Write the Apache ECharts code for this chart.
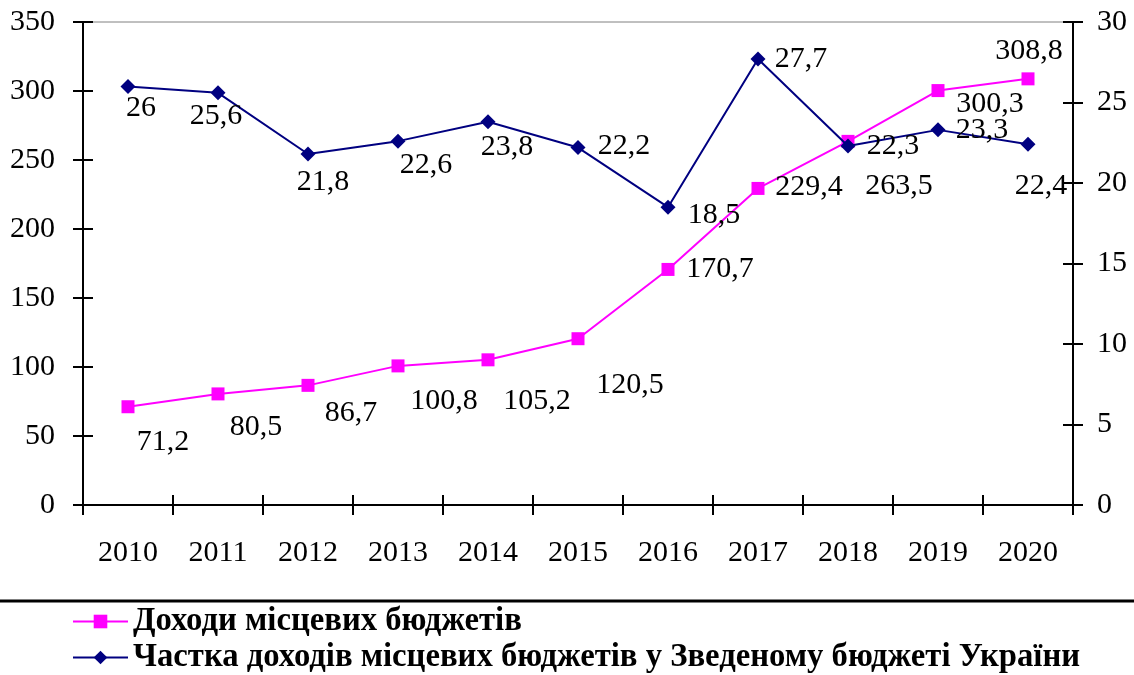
<!DOCTYPE html>
<html>
<head>
<meta charset="utf-8">
<script src="https://cdn.jsdelivr.net/npm/echarts@6/dist/echarts.min.js"></script>
<style>
html,body{margin:0;padding:0;background:#fff;}
#chart{width:1134px;height:675px;}
</style>
</head>
<body>
<div id="chart"></div>
<script>
const years = ['2010','2011','2012','2013','2014','2015','2016','2017','2018','2019','2020'];
const incomes = [71.2, 80.5, 86.7, 100.8, 105.2, 120.5, 170.7, 229.4, 263.5, 300.3, 308.8];
const shares = [26, 25.6, 21.8, 22.6, 23.8, 22.2, 18.5, 27.7, 22.3, 23.3, 22.4];
const incomeName = 'Доходи місцевих бюджетів';
const shareName = 'Частка доходів місцевих бюджетів у Зведеному бюджеті України';

// label placement (style only)
const incomeLabelOffsets = [[35,35],[38,33],[43,28],[46,35],[49,41],[52,46],[52,0],[51,-1],[51,45],[52,14],[1,-28]];
const shareLabelOffsets = [[13,22],[-2,23],[15,28],[28,24],[19,25],[46,-1],[46,8],[43,0],[45,0],[44,0],[13,42]];

const FONT = '"Liberation Serif", "Times New Roman", serif';
const FS = 30;
const fmt = v => String(v).replace('.', ',');

function buildData(values, offsets) {
  return values.map((v, i) => ({
    value: v,
    label: { offset: offsets[i] }
  }));
}

const chart = echarts.init(document.getElementById('chart'), null, {renderer: 'canvas'});
const gridRect = {left: 83, right: 61, top: 22, bottom: 170};

const labelBase = {
  show: true,
  position: 'inside',
  align: 'center',
  verticalAlign: 'middle',
  color: '#000',
  fontFamily: FONT,
  fontSize: FS,
  formatter: p => fmt(p.value)
};

const legendBase = {
  orient: 'horizontal',
  left: 72,
  itemWidth: 55,
  itemHeight: 17,
  itemGap: 5,
  padding: 0,
  textStyle: {fontFamily: FONT, fontSize: 32.7, fontWeight: 'bold', color: '#000'}
};

chart.setOption({
  animation: false,
  backgroundColor: '#fff',
  grid: Object.assign({show: true, borderColor: '#808080', borderWidth: 1, backgroundColor: 'transparent'}, gridRect),
  legend: [
    Object.assign({}, legendBase, {top: 605, data: [incomeName]}),
    Object.assign({}, legendBase, {top: 641, data: [shareName]})
  ],
  graphic: [{
    type: 'line',
    shape: {x1: 0, y1: 601, x2: 1134, y2: 601},
    style: {stroke: '#000', lineWidth: 3}
  }],
  xAxis: [{
    type: 'category',
    data: years,
    boundaryGap: true,
    position: 'bottom',
    axisLine: {show: true, onZero: false, lineStyle: {color: '#000', width: 2}},
    axisTick: {show: true, alignWithLabel: false, length: 10, inside: false, lineStyle: {color: '#000', width: 2}},
    axisLabel: {margin: 33, color: '#000', fontFamily: FONT, fontSize: FS, interval: 0},
    splitLine: {show: false}
  }, {
    type: 'category',
    data: years,
    boundaryGap: true,
    position: 'bottom',
    axisLine: {show: false},
    axisTick: {show: true, length: 10, inside: true, lineStyle: {color: '#000', width: 2}},
    axisLabel: {show: false},
    splitLine: {show: false}
  }],
  yAxis: [{
    type: 'value', position: 'left', min: 0, max: 350, interval: 50,
    axisLine: {show: true, lineStyle: {color: '#000', width: 2}},
    axisTick: {show: true, length: 10, inside: false, lineStyle: {color: '#000', width: 2}},
    axisLabel: {margin: 28, color: '#000', fontFamily: FONT, fontSize: FS},
    splitLine: {show: false}
  }, {
    type: 'value', position: 'right', min: 0, max: 30, interval: 5,
    axisLine: {show: true, lineStyle: {color: '#000', width: 2}},
    axisTick: {show: true, length: 10, inside: false, lineStyle: {color: '#000', width: 2}},
    axisLabel: {margin: 24, color: '#000', fontFamily: FONT, fontSize: FS},
    splitLine: {show: false}
  }, {
    type: 'value', position: 'left', min: 0, max: 350, interval: 50,
    axisLine: {show: false},
    axisTick: {show: true, length: 10, inside: true, lineStyle: {color: '#000', width: 2}},
    axisLabel: {show: false},
    splitLine: {show: false}
  }, {
    type: 'value', position: 'right', min: 0, max: 30, interval: 5,
    axisLine: {show: false},
    axisTick: {show: true, length: 10, inside: true, lineStyle: {color: '#000', width: 2}},
    axisLabel: {show: false},
    splitLine: {show: false}
  }],
  series: [{
    name: incomeName,
    type: 'line',
    xAxisIndex: 0,
    yAxisIndex: 0,
    data: buildData(incomes, incomeLabelOffsets),
    symbol: 'rect',
    symbolSize: 13,
    lineStyle: {color: '#FF00FF', width: 2},
    itemStyle: {color: '#FF00FF'},
    label: labelBase,
    z: 2
  }, {
    name: shareName,
    type: 'line',
    xAxisIndex: 0,
    yAxisIndex: 1,
    data: buildData(shares, shareLabelOffsets),
    symbol: 'diamond',
    symbolSize: 15,
    lineStyle: {color: '#000080', width: 2},
    itemStyle: {color: '#000080'},
    label: labelBase,
    z: 3
  }]
});
</script>
</body>
</html>
